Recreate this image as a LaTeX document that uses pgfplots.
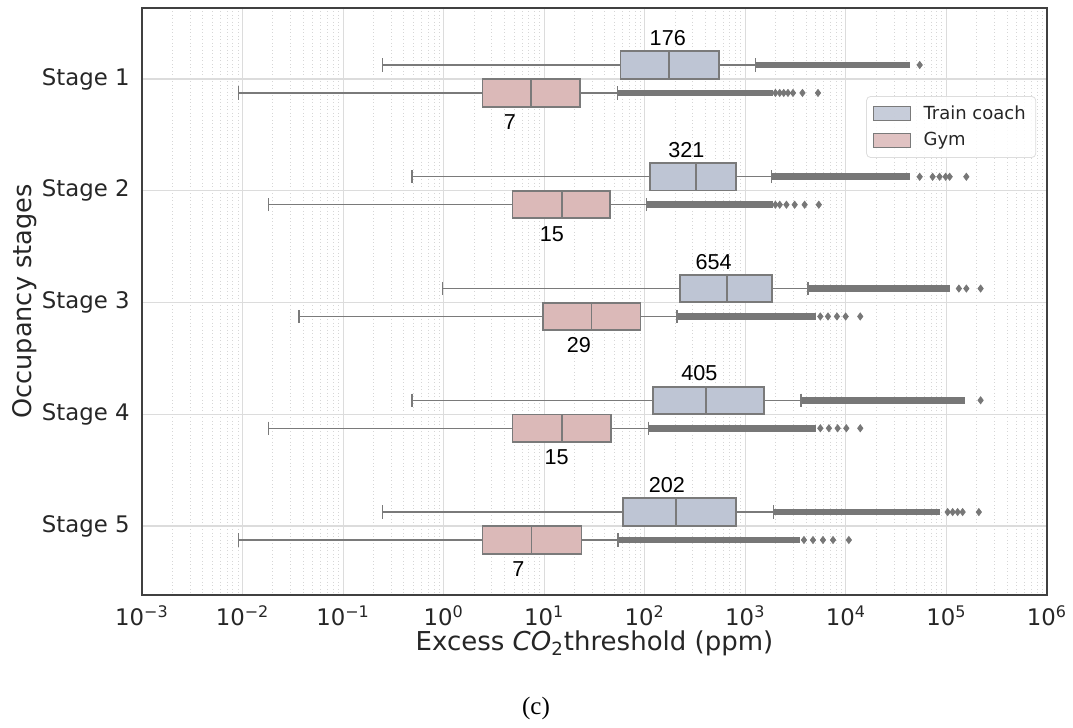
\documentclass[border=0pt]{standalone}
\usepackage{fontspec}
\setmainfont{DejaVu Sans}
\newfontfamily\arialfont{Liberation Sans}
\newfontfamily\timesfont{Liberation Serif}
\usepackage{pgfplots}
\pgfplotsset{compat=1.18}
\usepgfplotslibrary{statistics}
\definecolor{trainfill}{HTML}{BEC5D4}
\definecolor{gymfill}{HTML}{DBB9B8}
\definecolor{edgegray}{HTML}{7A7A7A}
\definecolor{outgray}{HTML}{777777}
\definecolor{gridmaj}{HTML}{DCDCDC}
\definecolor{gridmin}{HTML}{D6D6D6}
\definecolor{txt}{HTML}{262626}
\definecolor{legedge}{HTML}{DDDDDD}
\pgfplotsset{
  tbox/.style={forget plot, boxplot/draw direction=x, draw=edgegray, fill=trainfill, line width=0.9pt,
    boxplot/box extend=0.245, boxplot/whisker extend=0.12,
    boxplot/every whisker/.style={line width=0.7pt}},
  gbox/.style={forget plot, boxplot/draw direction=x, draw=edgegray, fill=gymfill, line width=0.9pt,
    boxplot/box extend=0.245, boxplot/whisker extend=0.12,
    boxplot/every whisker/.style={line width=0.7pt}},
  band/.style={forget plot, outgray, line width=3.4pt, mark=none},
  outl/.style={forget plot, only marks, mark=diamond*, mark size=1.75pt, outgray, mark options={draw=outgray, fill=outgray}},
}
\begin{document}
\begin{tikzpicture}[x=1pt,y=1pt]
\useasboundingbox (0,0) rectangle (536.5,364);
\begin{axis}[
  at={(71pt,66.5pt)}, anchor=south west,
  scale only axis, width=452.5pt, height=293.5pt,
  xmode=log, xmin=1e-3, xmax=1e6,
  ymin=-0.635, ymax=4.617, y dir=reverse,
  ytick={0,1,2,3,4},
  yticklabels={Stage 1,Stage 2,Stage 3,Stage 4,Stage 5},
  xtick={1e-3,1e-2,1e-1,1,10,100,1000,1e4,1e5,1e6},
  xticklabels={10\textsuperscript{−3},10\textsuperscript{−2},10\textsuperscript{−1},10\textsuperscript{0},10\textsuperscript{1},10\textsuperscript{2},10\textsuperscript{3},10\textsuperscript{4},10\textsuperscript{5},10\textsuperscript{6}},
  minor xtick={2e-3,3e-3,4e-3,5e-3,6e-3,7e-3,8e-3,9e-3,
    2e-2,3e-2,4e-2,5e-2,6e-2,7e-2,8e-2,9e-2,
    0.2,0.3,0.4,0.5,0.6,0.7,0.8,0.9,
    2,3,4,5,6,7,8,9,
    20,30,40,50,60,70,80,90,
    200,300,400,500,600,700,800,900,
    2000,3000,4000,5000,6000,7000,8000,9000,
    2e4,3e4,4e4,5e4,6e4,7e4,8e4,9e4,
    2e5,3e5,4e5,5e5,6e5,7e5,8e5,9e5},
  major tick length=0pt, minor tick length=0pt,
  xmajorgrids, xminorgrids, ymajorgrids,
  major grid style={gridmaj, line width=0.6pt},
  minor grid style={gridmin, line width=0.35pt, dash pattern=on 0.45pt off 1.3pt},
  axis line style={black!75, line width=0.8pt},
  tick label style={font=\fontsize{11.4}{13.7}\selectfont, text=txt},
  yticklabel style={xshift=-2.7pt},
  xticklabel style={yshift=-2pt},
  every axis x label/.style={at={(axis description cs:0.5,-0.082)}, anchor=center, font=\fontsize{13}{15.5}\selectfont, text=txt},
  every axis y label/.style={at={(axis description cs:-0.130,0.5)}, rotate=90, anchor=center, font=\fontsize{12.8}{15}\selectfont, text=txt},
  xlabel={Excess \textit{CO}\textsubscript{2}threshold (ppm)},
  ylabel={Occupancy stages},
  legend style={at={(axis description cs:0.988,0.850)}, anchor=north east, draw=legedge, rounded corners=2pt,
    fill=white, fill opacity=0.85, text opacity=1, font=\fontsize{9}{10.5}\selectfont, text=txt,
    inner xsep=3pt, inner ysep=2.5pt, row sep=1pt},
  legend cell align=left,
  legend image code/.code={\draw[#1, sharp corners] (0pt,-3.5pt) rectangle (18.5pt,3.5pt); \path (23pt,0pt);},
]
\addlegendimage{draw=edgegray, fill=trainfill, line width=0.5pt}
\addlegendentry{Train coach}
\addlegendimage{draw=edgegray, fill=gymfill, line width=0.5pt}
\addlegendentry{Gym}

% ---------------- Stage 1 ----------------
\addplot[band] coordinates {(1268,-0.125) (43000,-0.125)};
\addplot[tbox, boxplot prepared={draw position=-0.125, lower whisker=0.245, lower quartile=57.3, median=174.6, upper quartile=548, upper whisker=1268}] coordinates {};
\addplot[band] coordinates {(53.5,0.125) (1870,0.125)};
\addplot[gbox, boxplot prepared={draw position=0.125, lower whisker=0.00906, lower quartile=2.43, median=7.41, upper quartile=22.7, upper whisker=53.5}] coordinates {};
% ---------------- Stage 2 ----------------
\addplot[band] coordinates {(1829,0.875) (43000,0.875)};
\addplot[tbox, boxplot prepared={draw position=0.875, lower whisker=0.486, lower quartile=112, median=321, upper quartile=803, upper whisker=1829}] coordinates {};
\addplot[band] coordinates {(104,1.125) (1870,1.125)};
\addplot[gbox, boxplot prepared={draw position=1.125, lower whisker=0.018, lower quartile=4.84, median=14.9, upper quartile=44.9, upper whisker=104}] coordinates {};
% ---------------- Stage 3 ----------------
\addplot[band] coordinates {(4200,1.875) (107600,1.875)};
\addplot[tbox, boxplot prepared={draw position=1.875, lower whisker=0.975, lower quartile=224, median=653, upper quartile=1829, upper whisker=4200}] coordinates {};
\addplot[band] coordinates {(209,2.125) (5090,2.125)};
\addplot[gbox, boxplot prepared={draw position=2.125, lower whisker=0.0364, lower quartile=9.75, median=29.5, upper quartile=90.6, upper whisker=209}] coordinates {};
% ---------------- Stage 4 ----------------
\addplot[band] coordinates {(3580,2.875) (151700,2.875)};
\addplot[tbox, boxplot prepared={draw position=2.875, lower whisker=0.486, lower quartile=121, median=404, upper quartile=1524, upper whisker=3580}] coordinates {};
\addplot[band] coordinates {(109,3.125) (5090,3.125)};
\addplot[gbox, boxplot prepared={draw position=3.125, lower whisker=0.018, lower quartile=4.84, median=14.9, upper quartile=46, upper whisker=109}] coordinates {};
% ---------------- Stage 5 ----------------
\addplot[band] coordinates {(1915,3.875) (85500,3.875)};
\addplot[tbox, boxplot prepared={draw position=3.875, lower whisker=0.245, lower quartile=60.4, median=203, upper quartile=803, upper whisker=1915}] coordinates {};
\addplot[band] coordinates {(54.3,4.125) (3470,4.125)};
\addplot[gbox, boxplot prepared={draw position=4.125, lower whisker=0.00906, lower quartile=2.43, median=7.48, upper quartile=23.5, upper whisker=54.3}] coordinates {};

% ---------------- sparse outliers ----------------
\addplot[outl] coordinates {
  (54200,-0.125)
  (54200,0.875) (72900,0.875) (85500,0.875) (98200,0.875) (107600,0.875) (157800,0.875)
  (133000,1.875) (157800,1.875) (218700,1.875)
  (218700,2.875)
  (102800,3.875) (115300,3.875) (129200,3.875) (144900,3.875) (210000,3.875)
};
\addplot[outl] coordinates {
  (1991,0.125) (2198,0.125) (2410,0.125) (2655,0.125) (2980,0.125) (3700,0.125) (5280,0.125)
  (1991,1.125) (2198,1.125) (2564,1.125) (3097,1.125) (3890,1.125) (5380,1.125)
  (5570,2.125) (6640,2.125) (8150,2.125) (9950,2.125) (13900,2.125)
  (5570,3.125) (6780,3.125) (8280,3.125) (10100,3.125) (13900,3.125)
  (3830,4.125) (4710,4.125) (5920,4.125) (7450,4.125) (10700,4.125)
};

% ---------------- median annotations ----------------
\begin{scope}[every node/.style={font=\arialfont\fontsize{10.8}{12}\selectfont, text=black, inner sep=0pt}]
\node at (axis cs:169.3,-0.365) {176};
\node at (axis cs:4.55,0.385) {7};
\node at (axis cs:259.8,0.635) {321};
\node at (axis cs:11.9,1.385) {15};
\node at (axis cs:485,1.635) {654};
\node at (axis cs:22.1,2.385) {29};
\node at (axis cs:350,2.635) {405};
\node at (axis cs:13.3,3.385) {15};
\node at (axis cs:165.5,3.635) {202};
\node at (axis cs:5.55,4.385) {7};
\end{scope}
\end{axis}
% caption
\node[font=\timesfont\fontsize{12.5}{14}\selectfont] at (268,10) {(c)};
\end{tikzpicture}
\end{document}
